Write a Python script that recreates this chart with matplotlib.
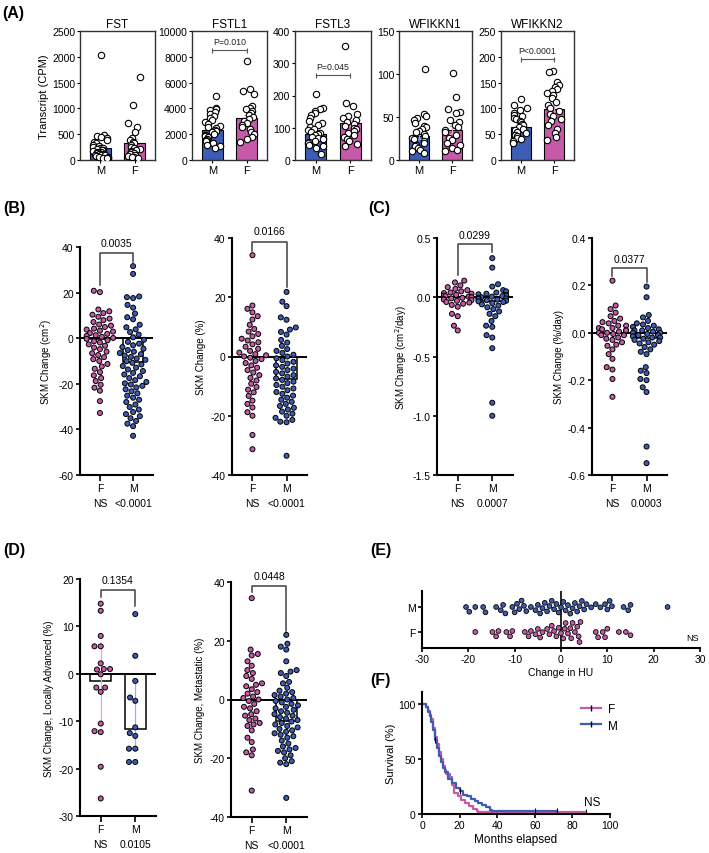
import matplotlib
matplotlib.use('Agg')
import matplotlib.pyplot as plt
from matplotlib.lines import Line2D
import numpy as np
import pandas as pd
import seaborn as sns

plt.rcParams['font.family'] = ['Liberation Sans', 'DejaVu Sans']
plt.rcParams['axes.unicode_minus'] = False

PINK = '#C65AA8'
BLUE = '#3D5CB4'
PINK_L = '#E6A6D2'
BLUE_L = '#9DB0E6'
W, H = 709, 854

# ---------------- (A) transcripts, M then F
a_genes = ['FST', 'FSTL1', 'FSTL3', 'WFIKKN1', 'WFIKKN2']
a_m = [
    [2030, 480, 465, 445, 420, 390, 350, 320, 300, 280, 260, 240, 225, 210, 200, 185,
     170, 160, 150, 140, 130, 120, 115, 105, 95, 90, 80, 70, 60, 55, 45, 35, 30],
    [4950, 4050, 3950, 3850, 3700, 3550, 3400, 3250, 3100, 2950, 2800, 2650, 2550, 2450,
     2350, 2250, 2150, 2050, 1950, 1850, 1750, 1650, 1550, 1450, 1350, 1200, 1050, 950],
    [205, 160, 157, 152, 145, 138, 130, 122, 115, 108, 102, 97, 92, 88, 84, 80, 76, 72,
     68, 64, 60, 56, 52, 48, 44, 38, 18],
    [106, 53, 51, 49, 46, 43, 40, 38, 36, 34, 32, 30, 28, 26, 24, 22, 20, 18, 16, 14, 12, 10, 8],
    [118, 106, 101, 96, 92, 88, 85, 82, 79, 76, 73, 70, 67, 64, 61, 58, 55, 52, 49, 46, 43, 40, 37, 33],
]
a_f = [
    [1600, 1060, 710, 630, 550, 430, 390, 350, 320, 290, 260, 240, 220, 200, 180, 160, 140,
     125, 110, 95, 80, 65, 50, 40],
    [7650, 5500, 5350, 5150, 4200, 4050, 3950, 3800, 3650, 3500, 3350, 3200, 3050, 2900,
     2700, 2550, 2400, 2200, 2000, 1800, 1600, 1400],
    [355, 176, 168, 142, 136, 130, 124, 118, 112, 106, 100, 95, 90, 84, 78, 72, 66, 58, 50, 42],
    [101, 73, 59, 56, 55, 47, 44, 41, 38, 35, 32, 29, 26, 23, 20, 17, 14, 12, 10],
    [172, 170, 151, 146, 141, 138, 133, 130, 126, 120, 112, 106, 100, 95, 90, 85, 80, 75,
     68, 60, 52, 44, 38],
]
a_bar_m = [240, 2320, 80, 28, 63]
a_bar_f = [330, 3220, 115, 35, 98]
a_sem_m = [60, 180, 7, 3, 4]
a_sem_f = [75, 260, 10, 5, 8]
a_ymax = [2500, 10000, 400, 150, 250]
a_ystep = [500, 2000, 100, 50, 50]
a_pval = [None, 'P=0.010', 'P=0.045', None, 'P<0.0001']
a_pval_y = [None, 8500, 263, None, 195]

# ---------------- (B) SKM change, F then M
b1_f = [20.8, 20.2, 12.6, 11.8, 11.0, 10.3, 9.4, 8.6, 7.9, 7.1, 6.0, 5.5, 4.9, 4.2, 3.8, 3.3,
        2.9, 2.2, 1.9, 1.3, 1.0, 0.6, 0.1, -0.3, -0.9, -1.3, -1.9, -2.7, -3.3, -4.1, -4.8,
        -5.9, -6.6, -7.4, -8.3, -9.2, -10.0, -11.3, -12.4, -13.4, -14.9, -16.3, -17.5,
        -18.8, -20.4, -21.7, -23.0, -27.6, -32.8]
b1_m = [31.6, 28.2, 18.3, 18.0, 17.6, 14.6, 13.4, 10.8, 9.2, 8.3, 5.9, 4.8, 3.9, 2.7, 1.6,
        0.4, -0.7, -1.6, -2.4, -3.1, -3.9, -4.6, -5.2, -5.9, -6.5, -7.0, -7.6, -8.2, -8.9,
        -9.5, -10.1, -10.8, -11.5, -12.2, -12.9, -13.7, -14.4, -15.2, -15.9, -16.7, -17.5,
        -18.4, -19.2, -19.8, -20.3, -20.9, -21.6, -22.4, -23.3, -24.2, -25.2, -26.1, -27.0,
        -28.0, -29.1, -30.2, -31.3, -32.4, -33.3, -34.2, -35.1, -36.3, -37.5, -38.6, -42.8]
b1_bar = [-0.4, -10.5]

b2_f = [34.2, 17.2, 16.1, 14.9, 13.6, 12.5, 10.7, 9.3, 8.4, 7.6, 6.8, 6.0, 5.4, 4.8, 4.1,
        3.3, 2.6, 1.9, 1.3, 0.8, 0.4, 0.0, -0.4, -0.9, -1.5, -2.2, -3.0, -3.8, -4.6, -5.4,
        -6.3, -7.2, -8.1, -9.2, -10.3, -11.2, -12.1, -13.3, -14.9, -16.0, -17.2, -18.8,
        -20.0, -26.5, -31.3]
b2_m = [21.8, 18.5, 17.0, 13.2, 12.4, 9.8, 9.1, 8.3, 7.4, 5.6, 4.7, 3.6, 2.5, 1.9, 1.2, 0.6,
        0.0, -0.6, -1.2, -1.8, -2.4, -3.0, -3.5, -4.1, -4.6, -5.2, -5.7, -6.3, -6.8, -7.4,
        -7.9, -8.5, -9.0, -9.6, -10.2, -10.8, -11.4, -12.0, -12.6, -13.2, -13.9, -14.6,
        -15.3, -16.0, -16.7, -17.3, -17.9, -18.6, -19.3, -20.0, -20.7, -21.4, -22.0, -22.2,
        -33.5]
b2_bar = [-0.3, -7.6]

# ---------------- (C) SKM change per day
c1_f = [0.14, 0.125, 0.10, 0.085, 0.07, 0.06, 0.05, 0.04, 0.035, 0.03, 0.02, 0.015, 0.01,
        0.005, 0.0, 0.0, -0.005, -0.01, -0.015, -0.02, -0.025, -0.03, -0.04, -0.045, -0.055,
        -0.065, -0.08, -0.14, -0.16, -0.24, -0.28]
c1_m = [0.33, 0.25, 0.11, 0.09, 0.06, 0.05, 0.04, 0.03, 0.025, 0.02, 0.015, 0.01, 0.005, 0.0,
        -0.005, -0.01, -0.015, -0.02, -0.025, -0.03, -0.035, -0.04, -0.05, -0.06, -0.07,
        -0.085, -0.1, -0.12, -0.14, -0.16, -0.2, -0.24, -0.25, -0.32, -0.34, -0.43, -0.89, -1.0]
c1_bar = [0.0, -0.03]

c2_f = [0.22, 0.115, 0.1, 0.085, 0.07, 0.06, 0.05, 0.045, 0.04, 0.03, 0.03, 0.02, 0.02, 0.015,
        0.01, 0.01, 0.005, 0.0, 0.0, -0.005, -0.01, -0.01, -0.02, -0.025, -0.03, -0.04, -0.05,
        -0.055, -0.07, -0.09, -0.11, -0.145, -0.155, -0.195, -0.27]
c2_m = [0.195, 0.15, 0.075, 0.065, 0.05, 0.04, 0.035, 0.03, 0.025, 0.02, 0.015, 0.01, 0.01,
        0.005, 0.0, 0.0, -0.005, -0.01, -0.01, -0.015, -0.02, -0.02, -0.025, -0.03, -0.035,
        -0.04, -0.045, -0.05, -0.06, -0.07, -0.08, -0.09, -0.145, -0.16, -0.17, -0.195, -0.2,
        -0.23, -0.25, -0.48, -0.55]
c2_bar = [0.0, -0.02]

# ---------------- (D) locally advanced / metastatic
d1_f = [14.8, 13.3, 8.0, 5.8, 5.8, 2.2, 1.0, 1.0, 0.9, -0.1, -2.9, -2.9, -3.8, -10.5, -12.3,
        -12.1, -19.6, -26.3]
d1_m = [12.6, 3.8, -1.5, -5.0, -5.7, -11.3, -12.5, -13.1, -15.8, -15.8, -18.6, -18.6]
d1_bar = [-1.5, -11.7]
d1_err_hi = [5.9, -1.5]
d1_err_lo = [-10.5, -15.8]

d2_f = [34.5, 17.0, 15.5, 15.0, 13.0, 11.5, 10.0, 9.0, 8.0, 7.0, 5.5, 5.0, 4.5, 3.5, 2.5, 2.0,
        1.0, 0.5, 0.0, -0.5, -1.5, -2.5, -3.0, -4.0, -5.0, -5.5, -6.5, -7.0, -8.0, -8.5, -9.0,
        -10.5, -13.0, -14.5, -17.0, -18.0, -19.0, -31.0]
d2_m = [22.0, 19.0, 18.0, 17.0, 13.0, 10.0, 9.5, 9.0, 8.0, 6.0, 5.5, 4.0, 3.0, 2.5, 2.0, 1.5,
        1.0, 0.5, 0.0, -0.5, -1.0, -1.5, -2.0, -2.5, -3.0, -3.5, -4.0, -4.5, -5.0, -5.5, -6.0,
        -6.5, -7.0, -7.5, -8.0, -8.5, -9.0, -9.5, -10.0, -10.5, -11.0, -11.5, -12.0, -12.5,
        -13.0, -14.0, -15.0, -16.0, -16.5, -17.0, -17.5, -18.0, -19.0, -20.0, -21.0, -21.5,
        -22.0, -33.5]
d2_bar = [0.0, -7.2]

# ---------------- (E) change in HU
e_m = [-20.5, -19.8, -18.5, -16.8, -16.3, -14.0, -13.0, -12.5, -12.0, -10.5, -10.0, -9.5,
       -9.0, -8.5, -8.0, -7.5, -6.5, -5.5, -5.0, -4.5, -4.0, -3.5, -3.0, -2.5, -2.0, -1.5,
       -1.0, -0.5, 0.0, 0.5, 1.0, 1.5, 2.0, 2.5, 3.0, 3.5, 4.0, 4.5, 5.0, 5.5, 6.5, 7.5, 8.5,
       9.5, 10.0, 10.5, 11.0, 13.5, 14.5, 15.0, 23.0]
e_f = [-18.5, -14.8, -14.0, -13.5, -11.8, -11.0, -10.5, -7.8, -7.0, -6.5, -5.5, -5.0, -4.5,
       -4.0, -3.0, -2.5, -2.0, -1.5, -1.0, -0.5, 0.0, 0.5, 0.8, 1.0, 1.5, 2.0, 2.2, 2.5, 3.0,
       3.5, 3.8, 4.0, 4.2, 7.5, 8.0, 9.0, 9.5, 10.0, 12.5, 14.0, 15.0]

# ---------------- (F) survival
f_t = [0, 2, 3, 4, 5, 6, 7, 8, 9, 10, 11, 12, 13, 15, 16, 17, 19, 21, 23, 25, 27, 29, 30, 87]
f_s = [100, 97, 94, 90, 86, 78, 70, 64, 56, 50, 44, 40, 36, 34, 26, 19, 16, 13, 10, 7, 5, 3,
       1.5, 1.5]
m_t = [0, 2, 3, 4, 5, 6, 7, 8, 9, 10, 11, 12, 14, 16, 18, 20, 22, 24, 26, 28, 30, 32, 34,
       36, 37, 72]
m_s = [100, 97, 93, 89, 84, 76, 67, 60, 53, 47, 42, 38, 32, 28, 24, 21, 17, 16, 14, 12, 10,
       8, 6, 4, 2.5, 2.5]
f_cens_t, f_cens_s = [87], [1.5]
m_cens_t, m_cens_s = [7, 20, 60, 72], [67, 21, 2.5, 2.5]


def rect(l, r, t, b):
    return [l / W, 1 - b / H, (r - l) / W, (b - t) / H]


def panel_a(ax, i, first):
    ax.bar([0, 1], [a_bar_m[i], a_bar_f[i]], width=0.62, color=[BLUE, PINK],
           edgecolor='black', linewidth=0.8, zorder=1)
    ax.errorbar([0], [a_bar_m[i]], yerr=[a_sem_m[i]], fmt='none', ecolor=BLUE_L,
                elinewidth=0.8, capsize=2, zorder=2)
    ax.errorbar([1], [a_bar_f[i]], yerr=[a_sem_f[i]], fmt='none', ecolor=PINK_L,
                elinewidth=0.8, capsize=2, zorder=2)
    df = pd.DataFrame({'sex': ['M'] * len(a_m[i]) + ['F'] * len(a_f[i]),
                       'val': a_m[i] + a_f[i]})
    sns.stripplot(data=df, x='sex', y='val', order=['M', 'F'], jitter=0.24, size=4.6,
                  color='white', edgecolor='black', linewidth=0.8, ax=ax, zorder=3)
    ax.set_xlim(-0.6, 1.6)
    ax.set_ylim(0, a_ymax[i])
    ax.set_yticks(np.arange(0, a_ymax[i] + 1, a_ystep[i]))
    ax.set_xticks([0, 1])
    ax.set_xticklabels(['M', 'F'], fontsize=8)
    ax.tick_params(axis='y', labelsize=7.5, length=2.5, width=0.8, pad=1)
    ax.tick_params(axis='x', length=2, width=0.8, pad=1.5)
    ax.set_xlabel('')
    ax.set_ylabel('Transcript (CPM)' if first else '', fontsize=8, labelpad=2)
    ax.set_title(a_genes[i], fontsize=8.5, pad=3)
    for s in ax.spines.values():
        s.set_linewidth(1.0)
        s.set_color('#333333')
    if a_pval[i]:
        y = a_pval_y[i]
        cap = a_ymax[i] * 0.018
        ax.plot([0, 1], [y, y], color='#555555', lw=0.8)
        ax.vlines([0, 1], y - cap, y + cap, color='#555555', lw=0.8)
        ax.text(0.5, y + a_ymax[i] * 0.035, a_pval[i], ha='center', va='bottom',
                fontsize=6.3, color='#222222')


def sk_panel(ax, fv, mv, bars, ylim, yticks, ylabel, brk, pval, sig, err=None):
    ax.bar([0, 1], bars, width=0.62, color='white', edgecolor='black', linewidth=1.1, zorder=1)
    if err is not None:
        hi, lo = err
        for x, c in zip([0, 1], [PINK_L, BLUE_L]):
            ax.plot([x, x], [lo[x], hi[x]], color=c, lw=0.9, zorder=1.5)
            ax.plot([x - 0.08, x + 0.08], [lo[x], lo[x]], color=c, lw=0.9, zorder=1.5)
            ax.plot([x - 0.08, x + 0.08], [hi[x], hi[x]], color=c, lw=0.9, zorder=1.5)
    ax.axhline(0, color='black', lw=1.4, zorder=2)
    df = pd.DataFrame({'sex': ['F'] * len(fv) + ['M'] * len(mv), 'val': list(fv) + list(mv)})
    sns.swarmplot(data=df, x='sex', y='val', hue='sex', order=['F', 'M'],
                  hue_order=['F', 'M'], palette=[PINK, BLUE], size=3.6, edgecolor='black',
                  linewidth=0.7, legend=False, ax=ax, zorder=3, warn_thresh=1)
    ax.set_xlim(-0.6, 1.6)
    ax.set_ylim(*ylim)
    ax.set_yticks(yticks)
    ax.set_xticks([0, 1])
    ax.set_xticklabels([f'F\n{sig[0]}', f'M\n{sig[1]}'], fontsize=7.5, linespacing=1.7)
    ax.set_xlabel('')
    ax.set_ylabel(ylabel, fontsize=7, labelpad=3)
    ax.tick_params(axis='y', labelsize=7.5, length=3, width=1.2, pad=1.5)
    ax.tick_params(axis='x', length=4, width=1.2, pad=1.5)
    for s in ['top', 'right']:
        ax.spines[s].set_visible(False)
    for s in ['left', 'bottom']:
        ax.spines[s].set_linewidth(1.5)
    yl, yh, yr, ty = brk
    ax.plot([0, 0, 1, 1], [yl, yh, yh, yr], color='#404040', lw=1.1, clip_on=False)
    ax.text(0.5, ty, pval, ha='center', va='center', fontsize=7.5, clip_on=False)


fig = plt.figure(figsize=(W / 100, H / 100), dpi=100)
np.random.seed(3)

a_rects = [(80, 155), (192, 267), (295, 371), (399, 472), (501, 574)]
for i, (l, r) in enumerate(a_rects):
    ax = fig.add_axes(rect(l, r, 32, 161))
    panel_a(ax, i, i == 0)

ax = fig.add_axes(rect(80, 153, 248, 476))
sk_panel(ax, b1_f, b1_m, b1_bar, (-60, 40), range(-60, 41, 20), 'SKM Change (cm$^2$)',
         (23.3, 37.4, 33.4, 41.6), '0.0035', ['NS', '<0.0001'])
ax = fig.add_axes(rect(232, 307, 239, 476))
sk_panel(ax, b2_f, b2_m, b2_bar, (-40, 40), range(-40, 41, 20), 'SKM Change (%)',
         (35.6, 38.6, 23.4, 42.2), '0.0166', ['NS', '<0.0001'])

ax = fig.add_axes(rect(437, 513, 239, 476))
sk_panel(ax, c1_f, c1_m, c1_bar, (-1.5, 0.5), [-1.5, -1.0, -0.5, 0.0, 0.5],
         'SKM Change (cm$^2$/day)', (0.19, 0.45, 0.38, 0.525), '0.0299', ['NS', '0.0007'])
ax.set_yticklabels(['-1.5', '-1.0', '-0.5', '0.0', '0.5'])
ax = fig.add_axes(rect(592, 667, 239, 476))
sk_panel(ax, c2_f, c2_m, c2_bar, (-0.6, 0.4), [-0.6, -0.4, -0.2, 0.0, 0.2, 0.4],
         'SKM Change (%/day)', (0.24, 0.273, 0.214, 0.31), '0.0377', ['NS', '0.0003'])
ax.set_yticklabels(['-0.6', '-0.4', '-0.2', '0.0', '0.2', '0.4'])

ax = fig.add_axes(rect(80, 156, 580, 817))
sk_panel(ax, d1_f, d1_m, d1_bar, (-30, 20), range(-30, 21, 10),
         'SKM Change, Locally Advanced (%)', (16.2, 17.7, 14.3, 19.8), '0.1354',
         ['NS', '0.0105'], err=(d1_err_hi, d1_err_lo))
ax = fig.add_axes(rect(231, 307, 583, 818))
sk_panel(ax, d2_f, d2_m, d2_bar, (-40, 40), range(-40, 41, 20),
         'SKM Change, Metastatic (%)', (36.6, 38.6, 23.4, 42.2), '0.0448', ['NS', '<0.0001'])

# (E)
ax = fig.add_axes(rect(422, 700, 592, 649))
ax.axvline(0, color='black', lw=1.2, zorder=2)
df_e = pd.DataFrame({'sex': ['M'] * len(e_m) + ['F'] * len(e_f), 'val': e_m + e_f})
sns.swarmplot(data=df_e, x='val', y='sex', hue='sex', order=['M', 'F'], hue_order=['M', 'F'],
              palette=[BLUE, PINK], orient='h', size=3.4, edgecolor='black', linewidth=0.6,
              legend=False, ax=ax, zorder=3, warn_thresh=1)
ax.set_xlim(-30, 30)
ax.set_ylim(1.64, -0.64)
ax.set_xticks(range(-30, 31, 10))
ax.set_xlabel('Change in HU', fontsize=7.5, labelpad=2)
ax.set_ylabel('')
ax.tick_params(labelsize=7.5, length=3, width=1.2, pad=1.5)
for s in ['top', 'right']:
    ax.spines[s].set_visible(False)
for s in ['left', 'bottom']:
    ax.spines[s].set_linewidth(1.5)
ax.text(28.3, 1.24, 'NS', fontsize=6.5, ha='center', va='center')

# (F)
ax = fig.add_axes(rect(422, 610, 693, 815))
ax.step(f_t, f_s, where='post', color=PINK, lw=1.6)
ax.step(m_t, m_s, where='post', color=BLUE, lw=1.6)
ax.plot(f_cens_t, f_cens_s, ls='none', marker='|', color='black', ms=4, mew=0.8)
ax.plot(m_cens_t, m_cens_s, ls='none', marker='|', color='black', ms=4, mew=0.8)
ax.set_xlim(0, 100)
ax.set_ylim(0, 111)
ax.set_yticks([0, 50, 100])
ax.set_xticks(range(0, 101, 20))
ax.set_xlabel('Months elapsed', fontsize=8.5, labelpad=2)
ax.set_ylabel('Survival (%)', fontsize=8, labelpad=2)
ax.tick_params(labelsize=7.5, length=3, width=1.2, pad=1.5)
for s in ['top', 'right']:
    ax.spines[s].set_visible(False)
for s in ['left', 'bottom']:
    ax.spines[s].set_linewidth(1.5)
ax.text(90.5, 11, 'NS', fontsize=8.5, ha='center', va='center')
handles = [Line2D([], [], color=PINK, lw=1.6, marker='|', mec='black', ms=4),
           Line2D([], [], color=BLUE, lw=1.6, marker='|', mec='black', ms=4)]
ax.legend(handles, ['F', 'M'], loc='upper left', bbox_to_anchor=(0.82, 0.95),
          frameon=False, fontsize=8.5, handlelength=1.7, handletextpad=0.6,
          labelspacing=0.4, borderaxespad=0, numpoints=1)

for txt, x, y in [('(A)', 2, 13.5), ('(B)', 3, 208), ('(C)', 368, 208), ('(D)', 3, 551),
                  ('(E)', 370, 550), ('(F)', 370, 681)]:
    fig.text(x / W, 1 - y / H, txt, fontsize=11.5, fontweight='bold', va='center', ha='left')

fig.savefig('out.png', dpi=100)
